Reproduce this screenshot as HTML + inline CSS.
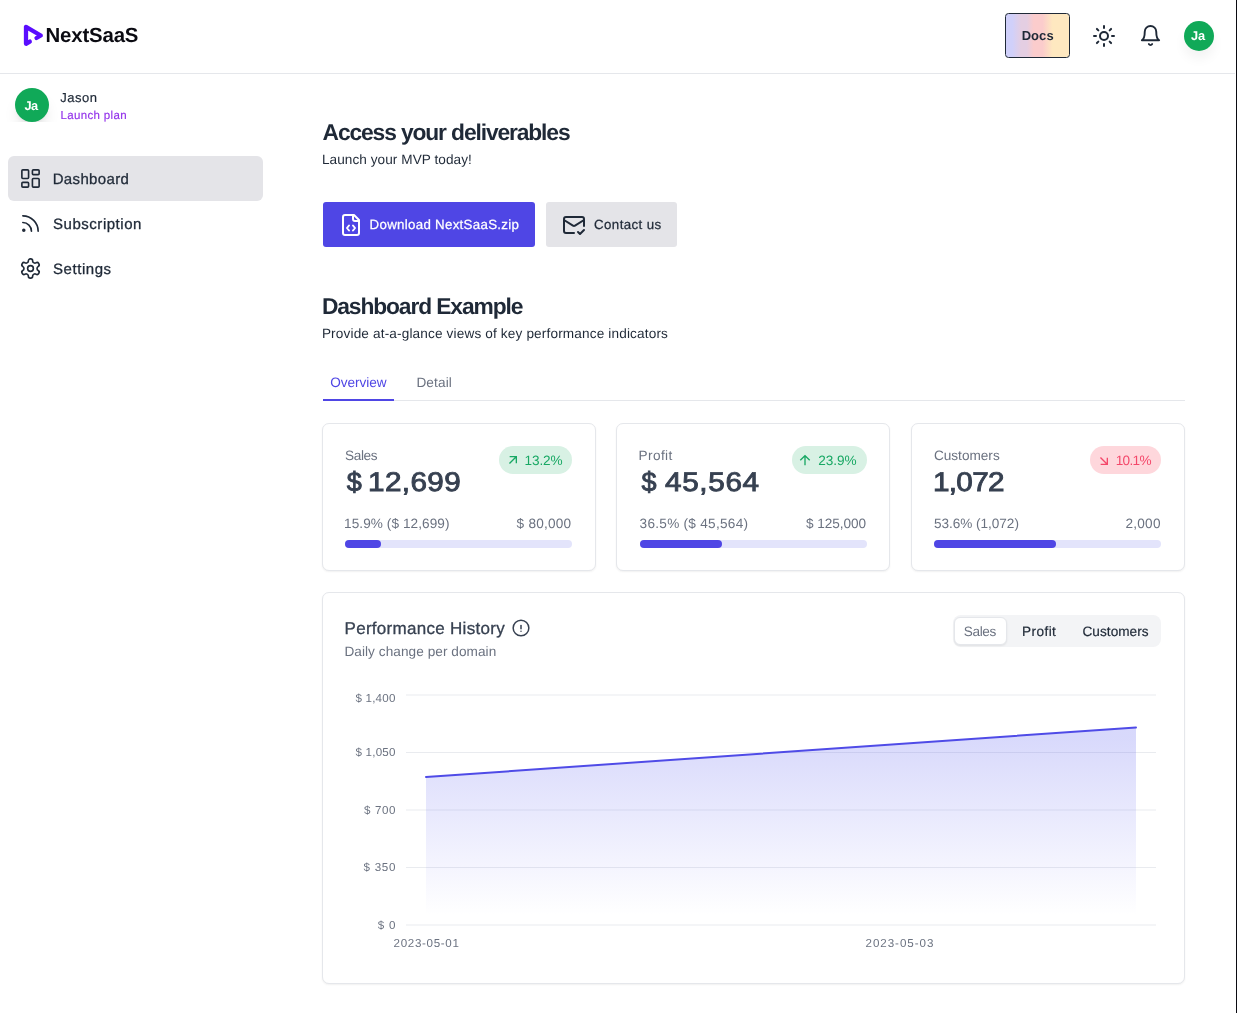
<!DOCTYPE html>
<html><head><meta charset="utf-8">
<style>
*{box-sizing:border-box;margin:0;padding:0}
html,body{width:1237px;height:1013px;overflow:hidden;background:#fff}
body{font-family:"Liberation Sans",sans-serif;color:#1f2937;position:relative;text-rendering:geometricPrecision}
.a{position:absolute}
.t{position:absolute;white-space:nowrap;line-height:1}
.card{position:absolute;background:#fff;border:1px solid #e5e7eb;border-radius:7px;box-shadow:0 1px 2px rgba(0,0,0,.06)}
.bar{position:absolute;height:8px;border-radius:4px;background:#e3e4fb;top:540px}
.bar i{position:absolute;left:0;top:0;height:8px;border-radius:4px;background:#4f46e5;display:block}
.badge{position:absolute;top:446px;height:28px;border-radius:14px}
svg{position:absolute;overflow:visible}
.ic{fill:none;stroke:#1f2937;stroke-linecap:round;stroke-linejoin:round}
</style></head><body>
<!-- HEADER -->
<div class="a" style="left:0;top:73px;width:1235px;height:1px;background:#e5e7eb"></div>
<div class="a" style="left:1236px;top:0;width:1px;height:1013px;background:#0b0b12"></div>
<svg style="left:0;top:0" width="60" height="60" viewBox="0 0 60 60"><path d="M36.5 38 L40.8 35.5 L26 26.9 L26 43.8 L29.8 41.6" fill="none" stroke="#5a0dff" stroke-width="4.3" stroke-linecap="round" stroke-linejoin="round"/></svg>
<div class="a" style="left:1005px;top:13px;width:65px;height:45px;border:1px solid #1f2937;border-radius:3.5px;background:linear-gradient(90deg,#d0d0fa 0%,#d0d0fa 10%,#e4cee2 24%,#e4cee2 33%,#fbcccc 44%,#fbcccc 58%,#fee8c0 74%,#fee8c0 100%)"></div>
<!-- sun -->
<svg class="ic" style="left:1092px;top:24px" width="24" height="24" viewBox="0 0 24 24" stroke-width="2"><circle cx="12" cy="12" r="4"/><path d="M12 2v2M12 20v2M4.93 4.93l1.41 1.41M17.66 17.66l1.41 1.41M2 12h2M20 12h2M6.34 17.66l-1.41 1.41M19.07 4.93l-1.41 1.41"/></svg>
<!-- bell -->
<svg class="ic" style="left:1139.1px;top:24px" width="23" height="23" viewBox="0 0 24 24" stroke-width="2"><path d="M6 8a6 6 0 0 1 12 0c0 7 3 9 3 9H3s3-2 3-9"/><path d="M10.3 21a1.94 1.94 0 0 0 3.4 0"/></svg>
<div class="a" style="left:1184.4px;top:21px;width:30px;height:30px;border-radius:15px;background:#10a958;box-shadow:0 8px 12px rgba(0,0,0,.05)"></div>
<!-- SIDEBAR -->
<div class="a" style="left:0;top:76px;width:80px;height:46px;overflow:hidden"><div class="a" style="left:15px;top:12px;width:34px;height:34px;border-radius:17px;background:#10a958;box-shadow:0 10px 15px -3px rgba(0,0,0,.1),0 4px 6px -4px rgba(0,0,0,.1)"></div></div>
<div class="a" style="left:8px;top:156px;width:255px;height:45px;border-radius:6px;background:#e4e4e8"></div>
<svg class="ic" style="left:18.9px;top:166.85px" width="23" height="23" viewBox="0 0 24 24" stroke-width="1.7"><rect x="3" y="3" width="7" height="9" rx="1"/><rect x="14" y="3" width="7" height="5" rx="1"/><rect x="14" y="12" width="7" height="9" rx="1"/><rect x="3" y="16" width="7" height="5" rx="1"/></svg>
<svg class="ic" style="left:18.9px;top:211.85px" width="23" height="23" viewBox="0 0 24 24" stroke-width="1.7"><path d="M4 11a9 9 0 0 1 9 9"/><path d="M4 4a16 16 0 0 1 16 16"/><circle cx="5" cy="19" r="1"/></svg>
<svg class="ic" style="left:18.9px;top:256.85px" width="23" height="23" viewBox="0 0 24 24" stroke-width="1.7"><path d="M12.22 2h-.44a2 2 0 0 0-2 2v.18a2 2 0 0 1-1 1.73l-.43.25a2 2 0 0 1-2 0l-.15-.08a2 2 0 0 0-2.73.73l-.22.38a2 2 0 0 0 .73 2.73l.15.1a2 2 0 0 1 1 1.72v.51a2 2 0 0 1-1 1.74l-.15.09a2 2 0 0 0-.73 2.73l.22.38a2 2 0 0 0 2.73.73l.15-.08a2 2 0 0 1 2 0l.43.25a2 2 0 0 1 1 1.73V20a2 2 0 0 0 2 2h.44a2 2 0 0 0 2-2v-.18a2 2 0 0 1 1-1.73l.43-.25a2 2 0 0 1 2 0l.15.08a2 2 0 0 0 2.73-.73l.22-.39a2 2 0 0 0-.73-2.73l-.15-.08a2 2 0 0 1-1-1.74v-.5a2 2 0 0 1 1-1.74l.15-.09a2 2 0 0 0 .73-2.73l-.22-.38a2 2 0 0 0-2.73-.73l-.15.08a2 2 0 0 1-2 0l-.43-.25a2 2 0 0 1-1-1.73V4a2 2 0 0 0-2-2z"/><circle cx="12" cy="12" r="3"/></svg>
<!-- MAIN buttons -->
<div class="a" style="left:323px;top:202px;width:212px;height:45px;border-radius:3px;background:#4f46e5"></div>
<svg class="ic" style="left:338.7px;top:212.8px;stroke:#fff" width="24" height="24" viewBox="0 0 24 24" stroke-width="2"><path d="M10 12.5 8 15l2 2.5"/><path d="m14 12.5 2 2.5-2 2.5"/><path d="M14 2v4a2 2 0 0 0 2 2h4"/><path d="M15 2H6a2 2 0 0 0-2 2v16a2 2 0 0 0 2 2h12a2 2 0 0 0 2-2V7z"/></svg>
<div class="a" style="left:546px;top:202px;width:131px;height:45px;border-radius:3px;background:#e4e4e8"></div>
<svg class="ic" style="left:561.8px;top:212.8px" width="24" height="24" viewBox="0 0 24 24" stroke-width="2"><path d="M22 13V6a2 2 0 0 0-2-2H4a2 2 0 0 0-2 2v12c0 1.1.9 2 2 2h8"/><path d="m22 7-8.97 5.7a1.94 1.94 0 0 1-2.06 0L2 7"/><path d="m16 19 2 2 4-4"/></svg>
<!-- tabs -->
<div class="a" style="left:323px;top:400px;width:862px;height:1px;background:#e5e7eb"></div>
<div class="a" style="left:323px;top:399px;width:71px;height:2px;background:#4f46e5"></div>
<!-- cards -->
<div class="card" style="left:322px;top:423px;width:274px;height:148px"></div>
<div class="card" style="left:616px;top:423px;width:274px;height:148px"></div>
<div class="card" style="left:911px;top:423px;width:274px;height:148px"></div>
<div class="badge" style="left:499px;width:73px;background:#d8f1e4"></div>
<div class="badge" style="left:792px;width:75px;background:#d8f1e4"></div>
<div class="badge" style="left:1090px;width:71px;background:#fed7dc"></div>
<svg style="left:504.7px;top:452px" width="16" height="16" viewBox="0 0 24 24"><path fill="#18a864" d="M16.0037 9.41421L7.39712 18.0208L5.98291 16.6066L14.5895 8H7.00373V6H18.0037V17H16.0037V9.41421Z"/></svg>
<svg style="left:797.1px;top:452px" width="16" height="16" viewBox="0 0 24 24"><path fill="#18a864" d="M13.0001 7.82843V20H11.0001V7.82843L5.63614 13.1924L4.22192 11.7782L12.0001 4L19.7783 11.7782L18.3641 13.1924L13.0001 7.82843Z"/></svg>
<svg style="left:1096px;top:452.5px" width="16" height="16" viewBox="0 0 24 24"><path fill="#f4486a" d="M14.5895 16.0032L5.98291 7.39664L7.39712 5.98242L16.0037 14.589V7.00324H18.0037V18.0032H7.00373V16.0032H14.5895Z"/></svg>
<div class="bar" style="left:345px;width:227px"><i style="width:36px"></i></div>
<div class="bar" style="left:640px;width:227px"><i style="width:82px"></i></div>
<div class="bar" style="left:934px;width:227px"><i style="width:122px"></i></div>
<!-- chart card -->
<div class="card" style="left:322px;top:592px;width:863px;height:392px"></div>
<svg class="ic" style="left:511.6px;top:619.2px;stroke:#374151" width="18" height="18" viewBox="0 0 18 18" stroke-width="1.5"><circle cx="9" cy="9" r="7.85"/><path d="M9 6.4v3.25"/><path d="M9 12.3v.01"/></svg>
<div class="a" style="left:952.7px;top:615px;width:208.5px;height:32px;border-radius:8px;background:#f3f4f6"></div>
<div class="a" style="left:953.5px;top:617px;width:53px;height:28px;border-radius:6px;background:#fff;border:1px solid #e5e7eb;box-shadow:0 1px 2px rgba(0,0,0,.08)"></div>
<svg style="left:0;top:0" width="1237" height="1013" viewBox="0 0 1237 1013">
<defs><linearGradient id="gr" x1="0" y1="727" x2="0" y2="925" gradientUnits="userSpaceOnUse"><stop offset="0.05" stop-color="#6366f1" stop-opacity="0.25"/><stop offset="0.95" stop-color="#6366f1" stop-opacity="0"/></linearGradient></defs>
<g stroke="#e9ebef" stroke-width="1"><path d="M406 695H1156M406 752.5H1156M406 810H1156M406 867.5H1156M406 925H1156"/></g>
<path d="M426 777 L1136 727.5 L1136 925 L426 925 Z" fill="url(#gr)"/>
<path d="M426 777 L1136 727.5" fill="none" stroke="#4f4be7" stroke-width="2" stroke-linecap="round"/>
</svg>
<div style="position:absolute;left:0;top:0;width:1237px;height:1013px;will-change:transform">
<div class="t" id="logo" style="left:45.50px;top:26px;font-size:20.4px;color:#0b0b12;letter-spacing:-0.168px;font-weight:700">NextSaaS</div>
<div class="t" id="docs" style="left:1021.70px;top:29px;font-size:13px;color:#1f2937;letter-spacing:0.047px;font-weight:700">Docs</div>
<div class="t" id="ja1" style="left:1191.10px;top:30px;font-size:12.8px;color:#fff;letter-spacing:-0.317px;font-weight:700">Ja</div>
<div class="t" id="ja2" style="left:24.50px;top:100px;font-size:12.8px;color:#fff;letter-spacing:-0.517px;font-weight:700">Ja</div>
<div class="t" id="jason" style="left:60.20px;top:91px;font-size:13px;color:#1f2937;letter-spacing:0.510px;-webkit-text-stroke:0.2px #1f2937">Jason</div>
<div class="t" id="plan" style="left:60.53px;top:111px;font-size:11.5px;color:#9333ea;letter-spacing:0.343px;-webkit-text-stroke:0.15px #9333ea">Launch plan</div>
<div class="t" id="n1" style="left:52.65px;top:172px;font-size:15px;color:#1f2937;letter-spacing:0.358px;-webkit-text-stroke:0.3px #1f2937">Dashboard</div>
<div class="t" id="n2" style="left:53.05px;top:217px;font-size:15px;color:#1f2937;letter-spacing:0.527px;-webkit-text-stroke:0.3px #1f2937">Subscription</div>
<div class="t" id="n3" style="left:53.05px;top:262px;font-size:15px;color:#1f2937;letter-spacing:0.543px;-webkit-text-stroke:0.3px #1f2937">Settings</div>
<div class="t" id="h1" style="left:322.60px;top:121px;font-size:22.8px;color:#1f2937;letter-spacing:-1.119px;font-weight:700">Access your deliverables</div>
<div class="t" id="s1" style="left:321.90px;top:153px;font-size:13.6px;color:#1f2937;letter-spacing:0.065px">Launch your MVP today!</div>
<div class="t" id="dl" style="left:369.62px;top:218px;font-size:13.3px;color:#fff;letter-spacing:0.293px;-webkit-text-stroke:0.25px #fff">Download NextSaaS.zip</div>
<div class="t" id="cu" style="left:594.12px;top:218px;font-size:13.3px;color:#1f2937;letter-spacing:0.382px;-webkit-text-stroke:0.25px #1f2937">Contact us</div>
<div class="t" id="h2" style="left:321.90px;top:295px;font-size:22.8px;color:#1f2937;letter-spacing:-1.106px;font-weight:700">Dashboard Example</div>
<div class="t" id="s2" style="left:321.90px;top:327px;font-size:13.6px;color:#1f2937;letter-spacing:0.153px">Provide at-a-glance views of key performance indicators</div>
<div class="t" id="tb1" style="left:330.30px;top:376px;font-size:13.6px;color:#4f46e5;letter-spacing:-0.062px">Overview</div>
<div class="t" id="tb2" style="left:416.40px;top:376px;font-size:13.6px;color:#6b7280;letter-spacing:0.133px">Detail</div>
<div class="t" id="c1a" style="left:345.10px;top:449px;font-size:13.6px;color:#6b7280;letter-spacing:-0.377px">Sales</div>
<div class="t" id="c1b" style="left:346.85px;top:469px;font-size:27px;color:#374151;letter-spacing:0.000px;-webkit-text-stroke:0.9px #374151">$</div>
<div class="t" id="c1b2" style="left:368.20px;top:469px;font-size:27px;color:#374151;letter-spacing:0.343px;-webkit-text-stroke:0.9px #374151;transform:scaleX(1.1);transform-origin:0 0">12,699</div>
<div class="t" id="c1c" style="left:524.60px;top:454px;font-size:13.6px;color:#18a864;letter-spacing:-0.164px">13.2%</div>
<div class="t" id="c1d" style="left:344.10px;top:517px;font-size:13.6px;color:#6b7280;letter-spacing:0.076px">15.9% ($ 12,699)</div>
<div class="t" id="c1e" style="left:516.60px;top:517px;font-size:13.6px;color:#6b7280;letter-spacing:0.235px">$ 80,000</div>
<div class="t" id="c2a" style="left:638.60px;top:449px;font-size:13.6px;color:#6b7280;letter-spacing:0.390px">Profit</div>
<div class="t" id="c2b" style="left:641.45px;top:469px;font-size:27px;color:#374151;letter-spacing:0.000px;-webkit-text-stroke:0.9px #374151">$</div>
<div class="t" id="c2b2" style="left:664.80px;top:469px;font-size:27px;color:#374151;letter-spacing:0.598px;-webkit-text-stroke:0.9px #374151;transform:scaleX(1.1);transform-origin:0 0">45,564</div>
<div class="t" id="c2c" style="left:818.20px;top:454px;font-size:13.6px;color:#18a864;letter-spacing:-0.039px">23.9%</div>
<div class="t" id="c2d" style="left:639.60px;top:517px;font-size:13.6px;color:#6b7280;letter-spacing:0.276px">36.5% ($ 45,564)</div>
<div class="t" id="c2e" style="left:806.00px;top:517px;font-size:13.6px;color:#6b7280;letter-spacing:-0.064px">$ 125,000</div>
<div class="t" id="c3a" style="left:933.90px;top:449px;font-size:13.6px;color:#6b7280;letter-spacing:0.010px">Customers</div>
<div class="t" id="c3b" style="left:933.39px;top:469px;font-size:27px;color:#374151;letter-spacing:-0.635px;-webkit-text-stroke:0.9px #374151;transform:scaleX(1.1);transform-origin:0 0">1,072</div>
<div class="t" id="c3c" style="left:1115.70px;top:454px;font-size:13.6px;color:#f4486a;letter-spacing:-0.664px">10.1%</div>
<div class="t" id="c3d" style="left:933.90px;top:517px;font-size:13.6px;color:#6b7280;letter-spacing:-0.030px">53.6% (1,072)</div>
<div class="t" id="c3e" style="left:1125.60px;top:517px;font-size:13.6px;color:#6b7280;letter-spacing:0.211px">2,000</div>
<div class="t" id="ph" style="left:344.55px;top:620px;font-size:17px;color:#374151;letter-spacing:0.287px;-webkit-text-stroke:0.3px #374151">Performance History</div>
<div class="t" id="pd" style="left:344.40px;top:645px;font-size:13.6px;color:#6b7280;letter-spacing:0.068px">Daily change per domain</div>
<div class="t" id="tg1" style="left:963.80px;top:625px;font-size:13.6px;color:#6b7280;letter-spacing:-0.377px">Sales</div>
<div class="t" id="tg2" style="left:1022.10px;top:625px;font-size:13.6px;color:#1f2937;letter-spacing:0.410px;-webkit-text-stroke:0.2px #1f2937">Profit</div>
<div class="t" id="tg3" style="left:1082.50px;top:625px;font-size:13.6px;color:#1f2937;letter-spacing:0.047px;-webkit-text-stroke:0.2px #1f2937">Customers</div>
<div class="t" id="y1" style="left:355.40px;top:693px;font-size:11.6px;color:#6b7280;letter-spacing:0.211px">$ 1,400</div>
<div class="t" id="y2" style="left:355.60px;top:747px;font-size:11.6px;color:#6b7280;letter-spacing:0.178px">$ 1,050</div>
<div class="t" id="y3" style="left:364.10px;top:805px;font-size:11.6px;color:#6b7280;letter-spacing:0.559px">$ 700</div>
<div class="t" id="y4" style="left:363.60px;top:862px;font-size:11.6px;color:#6b7280;letter-spacing:0.684px">$ 350</div>
<div class="t" id="y5" style="left:377.80px;top:920px;font-size:11.6px;color:#6b7280;letter-spacing:0.715px">$ 0</div>
<div class="t" id="x1" style="left:393.60px;top:938px;font-size:11.6px;color:#6b7280;letter-spacing:0.671px">2023-05-01</div>
<div class="t" id="x2" style="left:865.50px;top:938px;font-size:11.6px;color:#6b7280;letter-spacing:0.949px">2023-05-03</div>
</div>
</body></html>
